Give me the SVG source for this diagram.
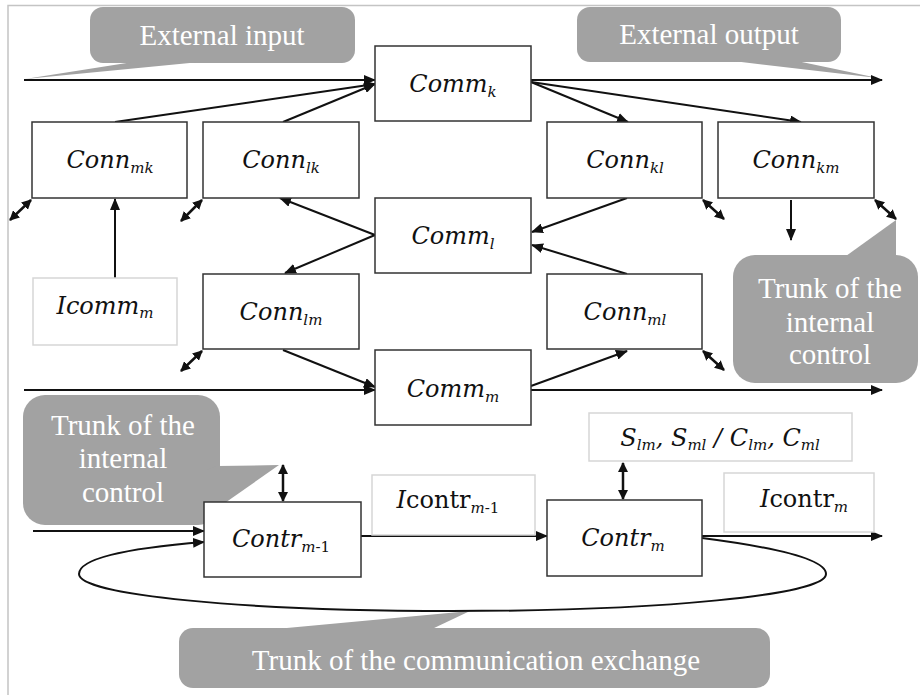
<svg xmlns="http://www.w3.org/2000/svg" width="920" height="695" viewBox="0 0 920 695">
<defs>
<marker id="ah" viewBox="0 0 12 10" refX="11" refY="5" markerWidth="12" markerHeight="10" markerUnits="userSpaceOnUse" orient="auto"><path d="M0,0 L12,5 L0,10 z" fill="#111"/></marker>
<marker id="ahs" viewBox="0 0 10 10" refX="9" refY="5" markerWidth="10" markerHeight="10" markerUnits="userSpaceOnUse" orient="auto-start-reverse"><path d="M0,0 L10,5 L0,10 z" fill="#111"/></marker>
<style>
.box{fill:#fff;stroke:#333;stroke-width:1.5}
.lbox{fill:#fff;stroke:#d6d6d6;stroke-width:1.5}
.call{fill:#a2a2a2}
.ct{font-family:'Liberation Serif','Times New Roman',serif;font-size:29px;fill:#fff;text-anchor:middle}
.nt{font-family:'DejaVu Serif','Liberation Serif',serif;font-style:italic;font-size:24px;fill:#111;text-anchor:middle}
.sub{font-size:15px}
.up{font-style:normal}
.ln{stroke:#111;stroke-width:2;fill:none;marker-end:url(#ah)}
.dbl{stroke:#111;stroke-width:2.5;fill:none;marker-start:url(#ahs);marker-end:url(#ahs)}
</style>
</defs>
<g id="frame"><path d="M8,695 L8,5.5 L920,5.5" fill="none" stroke="#c4c4c4" stroke-width="1.5"/></g>

<g id="callout-ext-input"><rect class="call" x="90" y="7" width="265" height="56" rx="13"/><polygon class="call" points="133,62 200,62 25,79"/><text class="ct" x="222" y="45" font-family="Liberation Serif, serif">External input</text></g>
<g id="callout-ext-output"><rect class="call" x="577" y="7" width="264" height="55" rx="13"/><polygon class="call" points="733,61 797,61 878,78"/><text class="ct" x="709" y="44" font-family="Liberation Serif, serif">External output</text></g>
<g id="callout-trunk-right"><rect class="call" x="733" y="255" width="185" height="128" rx="22"/><polygon class="call" points="846,256 896,220 896,256"/><text class="ct" x="830" y="298">Trunk of the</text><text class="ct" x="830" y="332">internal</text><text class="ct" x="830" y="364">control</text></g>
<g id="callout-trunk-left"><rect class="call" x="23" y="395" width="197" height="130" rx="22"/><polygon class="call" points="218,466 279,465 222,505 205,505 205,470"/><text class="ct" x="123" y="435">Trunk of the</text><text class="ct" x="123" y="468">internal</text><text class="ct" x="123" y="502">control</text></g>
<g id="callout-trunk-bottom"><rect class="call" x="179" y="628" width="591" height="60" rx="14"/><polygon class="call" points="276,629 470,611 432,629"/><text class="ct" x="476" y="670">Trunk of the communication exchange</text></g>

<g id="connectors">
<line class="ln" x1="24" y1="80" x2="375" y2="80"/>
<line class="ln" x1="115" y1="122" x2="375" y2="84"/>
<line class="ln" x1="283" y1="122" x2="375" y2="84"/>
<line class="ln" x1="531" y1="80" x2="882" y2="80"/>
<line class="ln" x1="531" y1="82" x2="628" y2="122"/>
<line class="ln" x1="531" y1="82" x2="801" y2="122"/>
<line class="ln" x1="375" y1="235" x2="280" y2="198"/>
<line class="ln" x1="375" y1="235" x2="285" y2="273"/>
<line class="ln" x1="627" y1="198" x2="532" y2="232"/>
<line class="ln" x1="627" y1="274" x2="532" y2="245"/>
<line class="ln" x1="283" y1="350" x2="375" y2="387"/>
<line class="ln" x1="24" y1="390" x2="375" y2="390"/>
<line class="ln" x1="531" y1="386" x2="627" y2="351"/>
<line class="ln" x1="531" y1="390" x2="882" y2="390"/>
<line class="ln" x1="115" y1="278" x2="115" y2="199"/>
<line class="ln" x1="791" y1="200" x2="791" y2="240"/>
<line class="dbl" x1="31" y1="200" x2="10" y2="220"/>
<line class="dbl" x1="202" y1="200" x2="181" y2="221"/>
<line class="dbl" x1="703" y1="200" x2="724" y2="219"/>
<line class="dbl" x1="875" y1="200" x2="896" y2="219"/>
<line class="dbl" x1="202" y1="351" x2="181" y2="371"/>
<line class="dbl" x1="703" y1="351" x2="724" y2="370"/>
<line class="dbl" x1="283" y1="465" x2="283" y2="501"/>
<line class="dbl" x1="623" y1="463" x2="623" y2="499"/>
<line class="ln" x1="33" y1="531" x2="204" y2="531"/>
<line class="ln" x1="361" y1="536" x2="547" y2="536"/>
<line class="ln" x1="702" y1="536" x2="882" y2="536"/>
<path class="ln" d="M702,538 C780,548 826,560 826,574 C826,595 660,611 452,611 C244,611 79,595 79,574 C79,558 130,548 204,542"/>
</g>

<g id="comm-k"><rect class="box" x="375" y="46" width="156" height="75"/><text class="nt" x="453" y="92">Comm<tspan class="sub" dy="5">k</tspan></text></g>
<g id="conn-mk"><rect class="box" x="32" y="122" width="155" height="76"/><text class="nt" x="110" y="168">Conn<tspan class="sub" dy="5">mk</tspan></text></g>
<g id="conn-lk"><rect class="box" x="203" y="122" width="156" height="76"/><text class="nt" x="281" y="168">Conn<tspan class="sub" dy="5">lk</tspan></text></g>
<g id="conn-kl"><rect class="box" x="547" y="122" width="155" height="76"/><text class="nt" x="625" y="168">Conn<tspan class="sub" dy="5">kl</tspan></text></g>
<g id="conn-km"><rect class="box" x="718" y="122" width="156" height="76"/><text class="nt" x="796" y="168">Conn<tspan class="sub" dy="5">km</tspan></text></g>
<g id="comm-l"><rect class="box" x="375" y="198" width="156" height="75"/><text class="nt" x="453" y="244">Comm<tspan class="sub" dy="5">l</tspan></text></g>
<g id="icomm-m"><rect class="lbox" x="33" y="278" width="144" height="67"/><text class="nt" x="105" y="314">Icomm<tspan class="sub" dy="4">m</tspan></text></g>
<g id="conn-lm"><rect class="box" x="203" y="274" width="156" height="75"/><text class="nt" x="281" y="320">Conn<tspan class="sub" dy="5">lm</tspan></text></g>
<g id="conn-ml"><rect class="box" x="547" y="274" width="155" height="75"/><text class="nt" x="625" y="320">Conn<tspan class="sub" dy="5">ml</tspan></text></g>
<g id="comm-m"><rect class="box" x="375" y="350" width="156" height="75"/><text class="nt" x="453" y="397">Comm<tspan class="sub" dy="5">m</tspan></text></g>
<g id="s-box"><rect class="lbox" x="589" y="413" width="263" height="48"/><text class="nt" x="720" y="446">S<tspan class="sub" dy="4">lm</tspan><tspan dy="-4">, S</tspan><tspan class="sub" dy="4">ml</tspan><tspan dy="-4"> / C</tspan><tspan class="sub" dy="4">lm</tspan><tspan dy="-4">, C</tspan><tspan class="sub" dy="4">ml</tspan></text></g>
<g id="icontr-m1"><rect class="lbox" x="372" y="475" width="163" height="60"/><text class="nt" x="448" y="508">I<tspan class="up">contr</tspan><tspan class="sub" dy="5">m</tspan><tspan class="sub up">-1</tspan></text></g>
<g id="icontr-m"><rect class="lbox" x="724" y="473" width="150" height="59"/><text class="nt" x="804" y="507">I<tspan class="up">contr</tspan><tspan class="sub" dy="5">m</tspan></text></g>
<g id="contr-m1"><rect class="box" x="204" y="502" width="157" height="75"/><text class="nt" x="281" y="547">Contr<tspan class="sub" dy="5">m</tspan><tspan class="sub up">-1</tspan></text></g>
<g id="contr-m"><rect class="box" x="547" y="500" width="155" height="76"/><text class="nt" x="623" y="546">Contr<tspan class="sub" dy="5">m</tspan></text></g>
</svg>
